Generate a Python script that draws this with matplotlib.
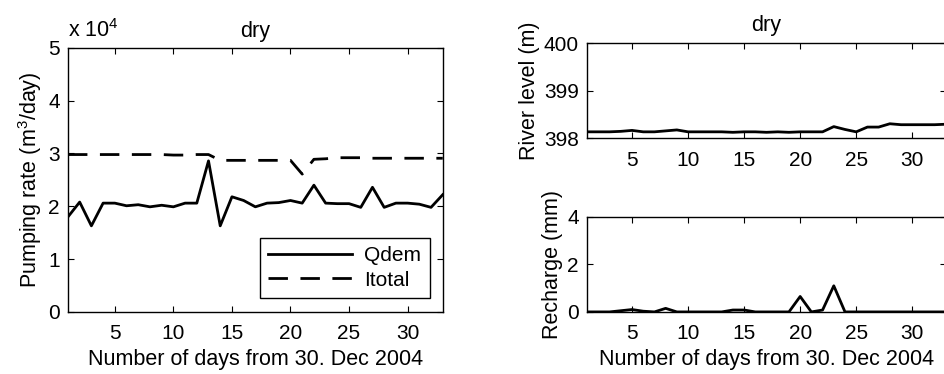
import matplotlib
matplotlib.use("Agg")
import matplotlib.pyplot as plt
import numpy as np

plt.rcParams['font.family'] = ['Liberation Sans', 'DejaVu Sans']
plt.rcParams['mathtext.fontset'] = 'custom'
plt.rcParams['mathtext.rm'] = 'Liberation Sans'

days = np.arange(1, 34)

# pumping rates in units of 1e4 m3/day
qdem = [1.80, 2.08, 1.63, 2.06, 2.06, 2.01, 2.03, 1.99, 2.02, 1.99, 2.06,
        2.06, 2.86, 1.63, 2.18, 2.11, 1.99, 2.06, 2.07, 2.11, 2.06, 2.40,
        2.06, 2.05, 2.05, 1.98, 2.36, 1.98, 2.06, 2.06, 2.04, 1.98, 2.22]
itotal = [2.98, 2.98, 2.98, 2.98, 2.98, 2.98, 2.98, 2.98, 2.98, 2.97, 2.97,
          2.98, 2.98, 2.87, 2.87, 2.87, 2.87, 2.87, 2.87, 2.87, 2.61, 2.89,
          2.90, 2.92, 2.92, 2.92, 2.91, 2.91, 2.91, 2.91, 2.91, 2.91, 2.91]

river = [398.13, 398.13, 398.13, 398.14, 398.16, 398.13, 398.13, 398.15,
         398.17, 398.13, 398.13, 398.13, 398.13, 398.12, 398.13, 398.13,
         398.12, 398.13, 398.12, 398.13, 398.13, 398.13, 398.24, 398.18,
         398.13, 398.23, 398.23, 398.30, 398.28, 398.28, 398.28, 398.28,
         398.29]

recharge = [0, 0, 0, 0.05, 0.10, 0.03, 0, 0.15, 0, 0, 0, 0, 0, 0.08, 0.08,
            0, 0, 0, 0, 0.65, 0, 0.08, 1.10, 0, 0, 0, 0, 0, 0, 0, 0, 0, 0]

xticks = [5, 10, 15, 20, 25, 30]
xlabel = "Number of days from 30. Dec 2004"
FS_TICK = 15
FS_LAB = 15.5

fig = plt.figure(figsize=(9.44, 3.74), dpi=100)


def style(ax):
    ax.set_xlim(1, 33)
    ax.set_xticks(xticks)
    ax.tick_params(direction='in', top=True, right=True, length=4,
                   width=0.8, labelsize=FS_TICK)
    ax.tick_params(axis='x', pad=9)
    ax.tick_params(axis='y', pad=6)
    for s in ax.spines.values():
        s.set_linewidth(1.0)


ax1 = fig.add_axes([0.072, 0.166, 0.397, 0.706])
ax1.plot(days, qdem, 'k-', lw=2.0, label='Qdem')
ax1.plot(days, itotal, 'k--', lw=2.0, dashes=(7, 4.5), label='Itotal')
style(ax1)
ax1.set_ylim(0, 5)
ax1.set_yticks([0, 1, 2, 3, 4, 5])
ax1.set_ylabel("Pumping rate (m$^3$/day)", fontsize=FS_LAB, labelpad=3)
ax1.set_xlabel(xlabel, fontsize=FS_LAB, labelpad=4)
ax1.set_title("dry", fontsize=FS_LAB, pad=8)
ax1.text(0.0, 1.042, "x 10$^4$", transform=ax1.transAxes, ha='left',
         va='baseline', fontsize=FS_LAB)
leg = ax1.legend(loc='lower right', bbox_to_anchor=(0.965, 0.053),
                 borderaxespad=0, fancybox=False, framealpha=1,
                 edgecolor='k', fontsize=15, handlelength=4.0,
                 handletextpad=0.6, borderpad=0.4, labelspacing=0.25)
leg.get_frame().set_linewidth(1.0)

ax2 = fig.add_axes([0.622, 0.631, 0.380, 0.254])
ax2.plot(days, river, 'k-', lw=2.0)
style(ax2)
ax2.set_ylim(398, 400)
ax2.set_yticks([398, 399, 400])
ax2.set_ylabel("River level (m)", fontsize=FS_LAB, labelpad=3)
ax2.set_title("dry", fontsize=FS_LAB, pad=9)

ax3 = fig.add_axes([0.622, 0.166, 0.380, 0.254])
ax3.plot(days, recharge, 'k-', lw=2.0)
style(ax3)
ax3.set_ylim(0, 4)
ax3.set_yticks([0, 2, 4])
ax3.set_ylabel("Recharge (mm)", fontsize=FS_LAB, labelpad=3)
ax3.set_xlabel(xlabel, fontsize=FS_LAB, labelpad=4)

fig.savefig("out.png", dpi=100)
